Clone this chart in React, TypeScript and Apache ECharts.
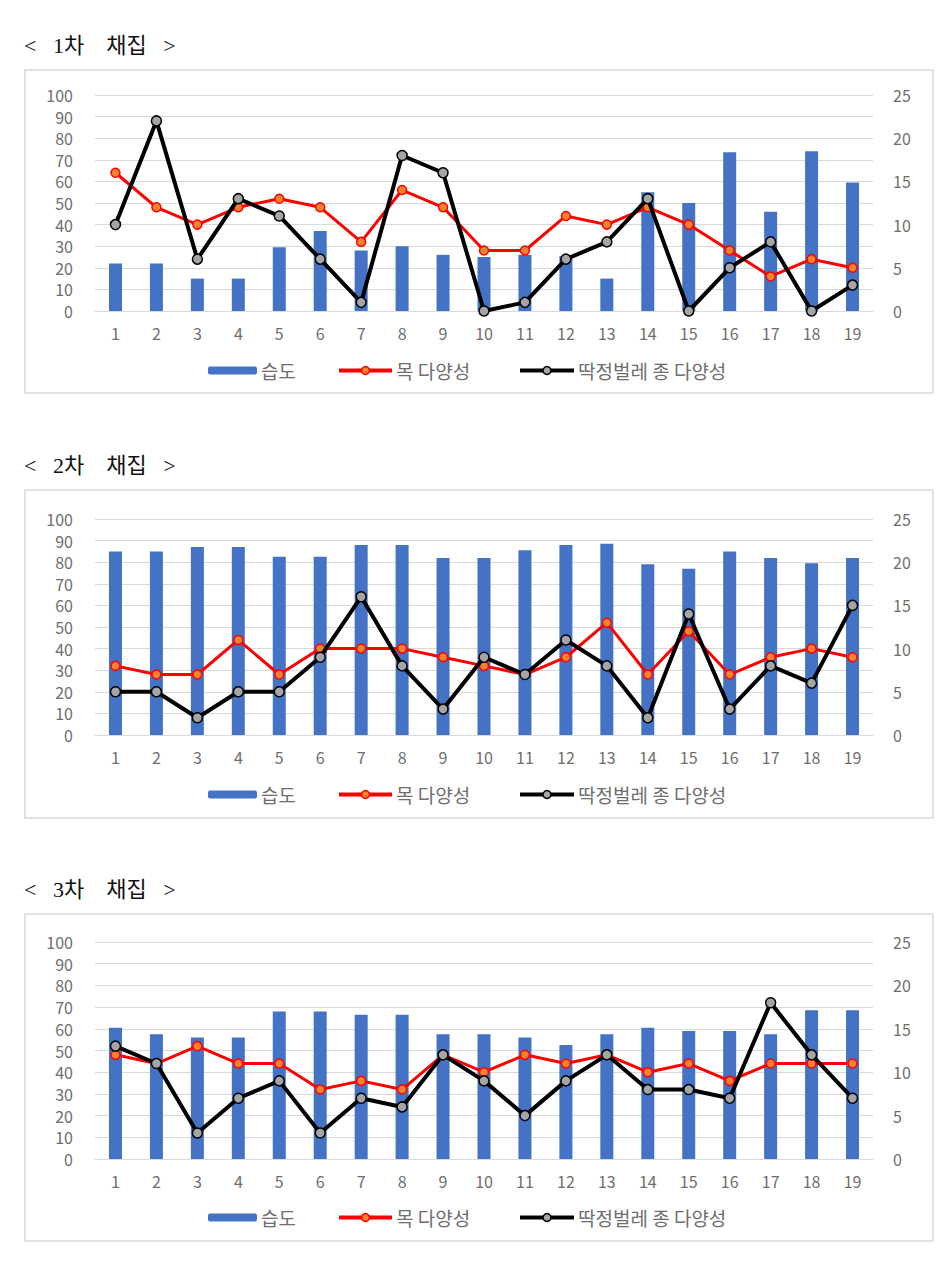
import React, { useEffect, useRef } from "react";
import * as echarts from "echarts";

const categories = ["1","2","3","4","5","6","7","8","9","10","11","12","13","14","15","16","17","18","19"];
const leftTicks = { min: 0, max: 100, interval: 10 };
const rightTicks = { min: 0, max: 25, interval: 5 };

const titles = ["<   1차    채집   >", "<   2차    채집   >", "<   3차    채집   >"];
const seriesNames = ["습도", "목 다양성", "딱정벌레 종 다양성"];

const humidity1 = [22, 22, 15, 15, 29.5, 37, 28, 30, 26, 25, 26, 25.5, 15, 55, 50, 73.5, 46, 74, 59.5];
const tree1 = [16, 12, 10, 12, 13, 12, 8, 14, 12, 7, 7, 11, 10, 12, 10, 7, 4, 6, 5];
const beetle1 = [10, 22, 6, 13, 11, 6, 1, 18, 16, 0, 1, 6, 8, 13, 0, 5, 8, 0, 3];

const humidity2 = [85, 85, 87, 87, 82.5, 82.5, 88, 88, 82, 82, 85.5, 88, 88.5, 79, 77, 85, 82, 79.5, 82];
const tree2 = [8, 7, 7, 11, 7, 10, 10, 10, 9, 8, 7, 9, 13, 7, 12, 7, 9, 10, 9];
const beetle2 = [5, 5, 2, 5, 5, 9, 16, 8, 3, 9, 7, 11, 8, 2, 14, 3, 8, 6, 15];

const humidity3 = [60.5, 57.5, 56, 56, 68, 68, 66.5, 66.5, 57.5, 57.5, 56, 52.5, 57.5, 60.5, 59, 59, 57.5, 68.5, 68.5];
const tree3 = [12, 11, 13, 11, 11, 8, 9, 8, 12, 10, 12, 11, 12, 10, 11, 9, 11, 11, 11];
const beetle3 = [13, 11, 3, 7, 9, 3, 7, 6, 12, 9, 5, 9, 12, 8, 8, 7, 18, 12, 7];

const panels = [
  { humidity: humidity1, tree: tree1, beetle: beetle1 },
  { humidity: humidity2, tree: tree2, beetle: beetle2 },
  { humidity: humidity3, tree: tree3, beetle: beetle3 },
];

// layout
const layout = [
  { titleY: 45, boxTop: 70, boxH: 323, gridTop: 95, gridH: 216, legendY: 367 },
  { titleY: 465, boxTop: 490, boxH: 328, gridTop: 519, gridH: 216, legendY: 791 },
  { titleY: 889, boxTop: 914, boxH: 327, gridTop: 942, gridH: 217, legendY: 1214 },
];
const legendX = [203, 332, 513];
const legendW = [49, 53, 54];

const FONT = "'Noto Sans CJK KR', 'Noto Sans', sans-serif";
const LABEL_COLOR = "#6e6e6e";

export default function App() {
  const ref = useRef<HTMLDivElement>(null);
  useEffect(() => {
    if (!ref.current) return;
    const chart = echarts.init(ref.current, null, { renderer: "svg" });

    const grids: any[] = [];
    const xAxes: any[] = [];
    const yAxes: any[] = [];
    const series: any[] = [];
    const legends: any[] = [];
    const graphics: any[] = [];

    const redLine = { color: "#FF0000", width: 3 };
    const redItem = { color: "#F5822F", borderColor: "#FF0000", borderWidth: 1.5 };
    const blackLine = { color: "#000000", width: 4 };
    const blackItem = { color: "#A5A5A5", borderColor: "#000000", borderWidth: 1.5 };
    const axisLabelStyle = { color: LABEL_COLOR, fontSize: 16, lineHeight: 18, fontFamily: FONT };

    panels.forEach((p, i) => {
      const L = layout[i];
      grids.push({ left: 95, right: 74, top: L.gridTop, height: L.gridH, containLabel: false });
      xAxes.push({
        type: "category",
        gridIndex: i,
        data: categories,
        axisLine: { lineStyle: { color: "#d9d9d9" } },
        axisTick: { show: false },
        axisLabel: { ...axisLabelStyle, margin: 13 },
      });
      yAxes.push({
        type: "value",
        gridIndex: i,
        position: "left",
        ...leftTicks,
        axisLine: { show: false },
        axisTick: { show: false },
        splitLine: { lineStyle: { color: "#d9d9d9", width: 1 } },
        axisLabel: { ...axisLabelStyle, margin: 22 },
      });
      yAxes.push({
        type: "value",
        gridIndex: i,
        position: "right",
        ...rightTicks,
        axisLine: { show: false },
        axisTick: { show: false },
        splitLine: { show: false },
        axisLabel: { ...axisLabelStyle, margin: 20 },
      });
      series.push({
        name: seriesNames[0],
        type: "bar",
        xAxisIndex: i,
        yAxisIndex: i * 2,
        data: p.humidity,
        barWidth: 13,
        itemStyle: { color: "#4472C4" },
        z: 1,
      });
      series.push({
        name: seriesNames[1],
        type: "line",
        xAxisIndex: i,
        yAxisIndex: i * 2 + 1,
        data: p.tree,
        symbol: "circle",
        symbolSize: 9,
        lineStyle: redLine,
        itemStyle: redItem,
        z: 2,
      });
      series.push({
        name: seriesNames[2],
        type: "line",
        xAxisIndex: i,
        yAxisIndex: i * 2 + 1,
        data: p.beetle,
        symbol: "circle",
        symbolSize: 10,
        lineStyle: blackLine,
        itemStyle: blackItem,
        z: 3,
      });
      const legendData: any[] = [
        { name: seriesNames[0], itemStyle: { color: "#4472C4" } },
        { name: seriesNames[1], lineStyle: { ...redLine, width: 4 }, itemStyle: redItem },
        { name: seriesNames[2], lineStyle: { ...blackLine, width: 4 }, itemStyle: blackItem },
      ];
      legendData.forEach((d, j) => {
        legends.push({
          left: legendX[j],
          top: L.legendY - 11,
          itemWidth: legendW[j],
          itemHeight: j === 0 ? 8 : 10,
          itemGap: 0,
          data: [d],
          textStyle: { color: LABEL_COLOR, fontSize: 19, fontFamily: FONT, padding: [0, 0, 0, -1] },
          selectedMode: false,
        });
      });
      graphics.push({
        type: "rect",
        shape: { x: 25, y: L.boxTop, width: 908, height: L.boxH },
        style: { fill: "none", stroke: "#d9d9d9", lineWidth: 1.5 },
        silent: true,
      });
      graphics.push({
        type: "text",
        x: 24,
        y: L.titleY,
        style: {
          text: titles[i],
          font: "22px 'Liberation Serif', 'Noto Sans CJK KR', serif",
          fill: "#111",
          verticalAlign: "middle",
        },
      });
    });

    chart.setOption({
      animation: false,
      backgroundColor: "#ffffff",
      grid: grids,
      xAxis: xAxes,
      yAxis: yAxes,
      series,
      legend: legends,
      graphic: graphics,
    });
    return () => chart.dispose();
  }, []);

  return (
    <div
      ref={ref}
      style={{ position: "absolute", left: 0, top: 0, width: 947, height: 1267, background: "#fff" }}
    />
  );
}
